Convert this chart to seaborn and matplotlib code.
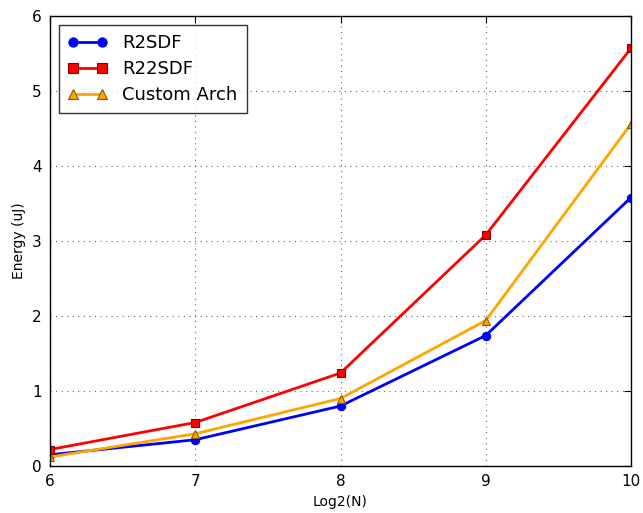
import matplotlib
matplotlib.use("Agg")
import matplotlib.pyplot as plt
import seaborn as sns
import pandas as pd

# data
log2n = [6, 7, 8, 9, 10]
r2sdf = [0.15, 0.35, 0.80, 1.74, 3.58]
r22sdf = [0.22, 0.58, 1.24, 3.08, 5.57]
custom_arch = [0.12, 0.43, 0.90, 1.94, 4.56]

series = [
    ("R2SDF", r2sdf, "blue", "o", "blue"),
    ("R22SDF", r22sdf, "red", "s", "#8b0000"),
    ("Custom Arch", custom_arch, "orange", "^", "#8b5a00"),
]

sns.set_style("white")
plt.rcParams["font.family"] = ["DejaVu Sans"]
plt.rcParams["text.color"] = "black"
plt.rcParams["axes.labelcolor"] = "black"
plt.rcParams["xtick.color"] = "black"
plt.rcParams["ytick.color"] = "black"

fig, ax = plt.subplots(figsize=(6.43, 5.13), dpi=100)
fig.subplots_adjust(left=50 / 643, right=631 / 643, top=1 - 16 / 513, bottom=1 - 466 / 513)

for name, vals, color, marker, edge in series:
    df = pd.DataFrame({"x": log2n, "y": vals})
    sns.lineplot(data=df, x="x", y="y", ax=ax, color=color, marker=marker,
                 markersize=6, markeredgecolor=edge, markeredgewidth=0.8,
                 linewidth=2, label=name)

ax.set_xlim(6, 10)
ax.set_ylim(0, 6)
ax.set_xticks([6, 7, 8, 9, 10])
ax.set_yticks([0, 1, 2, 3, 4, 5, 6])
ax.set_xlabel("Log2(N)", fontsize=10)
ax.set_ylabel("Energy (uJ)", fontsize=10)
ax.tick_params(direction="in", length=5, labelsize=11, top=True, right=True, pad=6)
ax.grid(True, color="black", linestyle=(0, (1, 4)), linewidth=0.8, alpha=0.6)
for s in ax.spines.values():
    s.set_color("black")
    s.set_linewidth(1)

leg = ax.legend(loc="upper left", fontsize=13, frameon=True, fancybox=False,
                edgecolor="black", borderpad=0.5, handlelength=2.2,
                labelspacing=0.45, numpoints=2, markerscale=1.1)
leg.get_frame().set_linewidth(1)

fig.savefig("out.png", dpi=100)
